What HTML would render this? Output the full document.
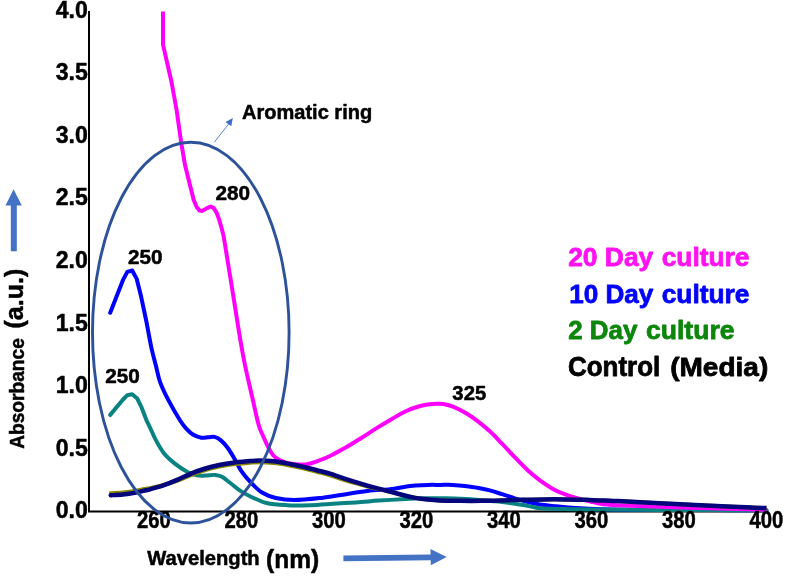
<!DOCTYPE html>
<html><head><meta charset="utf-8"><title>UV absorbance</title>
<style>
html,body{margin:0;padding:0;background:#fff;}
body{width:786px;height:578px;overflow:hidden;font-family:"Liberation Sans",sans-serif;}
svg{display:block;will-change:transform;}
text{font-family:"Liberation Sans",sans-serif;font-weight:bold;}
.c{fill:none;stroke-linejoin:round;}
</style></head><body>
<svg width="786" height="578" viewBox="0 0 786 578">
<rect x="0" y="0" width="786" height="578" fill="#fff"/>
<path d="M89 11 V511.6 H767" fill="none" stroke="#000" stroke-width="2"/>
<path class="c" d="M110.2 312.8 L123.2 279.6 L127.3 271.9 L132.2 270.5 L136.6 278.6 L140.8 295.2 L146.5 322.0 C147.3 326.2 149.8 340.1 151.3 347.3 C152.9 354.5 154.3 359.5 155.8 365.3 C157.3 371.1 158.0 376.3 160.1 382.1 C162.2 387.9 165.1 393.8 168.4 400.1 C171.7 406.4 176.9 415.3 179.8 420.0 C182.7 424.7 183.8 425.9 186.0 428.3 C188.2 430.7 190.4 432.9 192.9 434.5 C195.4 436.1 198.6 437.2 201.2 437.7 C203.8 438.2 206.0 437.4 208.2 437.3 C210.4 437.2 212.3 436.4 214.4 436.9 C216.5 437.4 218.4 438.3 220.6 440.1 C222.8 441.9 225.3 444.6 227.6 447.7 C229.9 450.8 232.2 454.9 234.5 458.8 C236.8 462.7 238.8 467.4 241.4 471.2 C244.0 475.0 246.6 478.1 250.0 481.6 C253.4 485.2 257.7 489.8 262.0 492.5 C266.3 495.2 270.4 496.7 275.8 498.0 C281.2 499.3 286.5 500.1 294.1 500.1 C301.7 500.1 313.2 498.8 321.6 497.9 C330.0 496.9 336.9 495.5 344.5 494.4 C352.1 493.2 359.8 491.9 367.4 491.0 C375.0 490.1 384.1 489.8 390.0 489.2 C395.9 488.6 398.5 487.8 402.7 487.2 C406.9 486.6 411.1 486.0 415.4 485.6 C419.6 485.2 424.1 485.0 428.2 484.9 C432.3 484.8 436.0 484.9 440.0 484.9 C444.0 484.9 448.2 484.7 452.4 484.9 C456.5 485.1 460.8 485.4 464.9 485.9 C469.0 486.4 473.1 486.9 477.3 487.7 C481.5 488.4 485.7 489.3 489.8 490.4 C493.9 491.5 498.0 492.9 502.2 494.2 C506.4 495.5 510.6 497.0 514.7 498.3 C518.9 499.6 523.0 500.8 527.1 501.8 C531.2 502.8 534.8 503.8 539.6 504.5 C544.5 505.2 550.3 505.7 556.2 506.3 C562.1 506.9 567.6 507.4 574.9 507.9 C582.2 508.4 589.1 508.9 600.0 509.2 C610.9 509.5 612.2 509.6 640.0 509.8 C667.8 510.0 745.4 510.2 766.5 510.3" stroke="#0000FF" stroke-width="4" stroke-linecap="round"/>
<path class="c" d="M110.2 414.9 L122.6 400.0 L127.3 395.2 L132.2 394.3 L137.2 398.5 L141.3 406.8 L146.5 420.3 C147.1 421.5 148.5 424.3 150.0 427.5 C151.5 430.7 153.2 435.1 155.5 439.4 C157.8 443.7 160.7 449.2 163.9 453.2 C167.1 457.2 171.0 460.5 174.9 463.6 C178.8 466.7 183.7 469.9 187.4 471.9 C191.1 473.9 194.1 474.8 197.1 475.4 C200.1 476.0 202.4 475.7 205.4 475.6 C208.4 475.5 212.3 474.7 215.1 474.9 C217.9 475.1 219.5 475.4 222.0 476.8 C224.5 478.2 227.3 480.7 230.3 483.0 C233.3 485.3 236.7 488.4 240.0 490.6 C243.3 492.8 245.6 494.1 250.0 496.2 C254.4 498.3 260.4 501.5 266.6 503.0 C272.8 504.5 279.9 504.8 287.2 505.2 C294.4 505.6 302.5 505.4 310.1 505.2 C317.7 505.0 325.4 504.3 333.0 503.8 C340.6 503.3 348.4 502.9 356.0 502.4 C363.6 501.9 370.6 501.2 378.8 500.6 C387.0 500.1 397.5 499.5 405.3 499.1 C413.1 498.7 418.8 498.5 425.6 498.3 C432.4 498.1 439.2 498.1 446.0 498.2 C452.8 498.3 458.7 498.6 466.3 499.0 C473.9 499.4 485.8 500.4 491.8 500.9 C497.8 501.4 497.0 501.2 502.2 501.9 C507.4 502.6 517.8 504.1 523.0 505.0 C528.2 505.9 530.6 506.5 533.4 507.0 C536.2 507.5 535.6 507.9 540.0 508.2 C544.4 508.5 550.0 508.8 560.0 509.0 C570.0 509.2 583.3 509.5 600.0 509.6 C616.7 509.8 640.0 509.8 660.0 509.9 C680.0 510.0 702.2 510.0 720.0 510.1 C737.8 510.2 758.8 510.3 766.5 510.3" stroke="#0A8282" stroke-width="4" stroke-linecap="round"/>
<path class="c" d="M163.0 11.4 L163.0 44.6 L171.3 81.0 L176.6 110.0 L181.3 143.2 L185.0 165.0 L188.1 177.4 L191.2 189.9 L193.7 199.9 L196.8 207.3 L199.6 210.6 L202.2 210.9 L206.1 208.6 L210.5 206.5 L213.6 207.9 L216.7 212.9 L219.2 219.8 L221.7 228.5 L223.6 236.0 C224.9 244.2 229.0 269.2 231.6 285.2 C234.2 301.2 236.8 318.8 239.0 332.0 C241.2 345.2 242.6 353.4 244.9 364.6 C247.2 375.8 250.4 389.1 252.7 399.2 C255.0 409.3 256.9 418.8 258.7 425.0 C260.4 431.2 261.6 432.5 263.2 436.2 C264.8 439.9 266.6 444.2 268.3 447.4 C270.0 450.6 271.5 453.4 273.4 455.5 C275.3 457.6 277.1 458.8 279.5 460.1 C281.9 461.4 284.8 462.5 288.0 463.2 C291.2 463.9 295.7 464.2 298.9 464.4 C302.1 464.6 304.1 464.7 307.0 464.2 C309.9 463.7 312.4 463.0 316.2 461.6 C320.0 460.2 325.1 458.3 330.0 456.0 C334.9 453.7 340.2 450.6 345.3 447.7 C350.4 444.8 355.4 441.7 360.5 438.5 C365.6 435.3 370.7 431.8 375.8 428.6 C380.9 425.4 386.0 422.3 391.1 419.4 C396.2 416.5 401.7 413.1 406.3 411.0 C410.9 408.9 414.7 407.6 418.5 406.5 C422.3 405.4 426.1 404.7 429.2 404.2 C432.3 403.7 434.4 403.7 436.9 403.7 C439.4 403.7 441.4 403.7 444.0 404.1 C446.6 404.6 448.9 405.0 452.4 406.4 C455.9 407.8 460.8 410.2 464.9 412.6 C469.0 415.0 473.1 417.8 477.3 420.9 C481.5 424.0 485.7 427.5 489.8 431.3 C493.9 435.1 498.0 439.5 502.2 443.8 C506.4 448.1 510.6 452.9 514.7 457.2 C518.9 461.5 523.0 465.9 527.1 469.7 C531.2 473.5 535.5 477.0 539.6 480.1 C543.8 483.2 547.9 486.0 552.0 488.4 C556.1 490.8 560.4 492.6 564.5 494.2 C568.6 495.8 572.8 496.9 576.9 498.1 C581.0 499.3 585.0 500.2 589.4 501.2 C593.8 502.2 596.0 503.4 603.1 504.2 C610.2 505.0 619.9 505.3 631.9 505.8 C643.9 506.3 660.6 506.7 675.0 507.2 C689.4 507.7 702.9 508.2 718.1 508.6 C733.4 509.0 758.4 509.6 766.5 509.8" stroke="#FF00FF" stroke-width="4" stroke-linecap="butt"/>
<path class="c" d="M109.2 493.2 C111.5 493.1 118.7 492.9 122.9 492.5 C127.1 492.1 130.6 491.5 134.4 490.9 C138.2 490.3 143.2 489.2 145.8 488.8 C148.4 488.3 147.0 488.7 150.0 488.1 C153.0 487.5 159.3 486.3 163.9 485.0 C168.5 483.8 173.1 482.3 177.7 480.6 C182.3 478.9 187.0 476.7 191.6 474.9 C196.2 473.1 200.8 471.5 205.4 470.1 C210.0 468.7 214.7 467.6 219.3 466.6 C223.9 465.6 228.0 464.9 233.1 464.3 C238.2 463.7 245.5 463.1 250.0 462.7 C254.5 462.4 256.8 462.2 260.2 462.2 C263.6 462.2 267.0 462.4 270.4 462.7 C273.8 463.0 277.1 463.3 280.5 463.8 C283.9 464.3 287.3 465.1 290.7 465.8 C294.1 466.5 297.5 467.0 300.9 467.8 C304.3 468.6 307.7 469.6 311.1 470.4 C314.5 471.3 318.1 472.1 321.2 472.9 C324.3 473.7 326.1 474.1 330.0 475.3 C333.9 476.5 338.3 478.2 344.5 480.1 C350.7 481.9 359.8 484.5 367.4 486.5 C375.0 488.4 384.1 490.4 390.0 491.9 C395.9 493.3 398.5 494.0 402.7 495.0 C406.9 496.0 411.1 497.1 415.4 497.9 C419.6 498.7 424.1 499.2 428.2 499.6 C432.3 500.0 434.6 500.2 440.0 500.4 C445.4 500.6 453.8 500.7 460.7 500.8 C467.6 500.9 474.6 500.9 481.5 500.8 C488.4 500.7 495.3 500.6 502.2 500.4 C509.1 500.2 516.1 500.0 523.0 499.8 C529.9 499.6 536.8 499.5 543.7 499.4 C550.6 499.3 557.6 499.3 564.5 499.4 C571.4 499.5 579.3 499.6 585.2 499.8 C591.1 500.0 594.6 500.2 600.0 500.4 C605.4 500.6 605.0 500.5 617.5 501.1 C630.0 501.7 655.8 503.1 675.0 504.0 C694.2 504.9 717.2 506.0 732.5 506.7 C747.8 507.4 760.8 507.8 766.5 508.0" stroke="#8A8A00" stroke-width="4" stroke-linecap="butt"/>
<path class="c" d="M110.8 495.2 C112.8 495.1 119.0 494.9 122.9 494.5 C126.8 494.1 130.6 493.6 134.4 492.9 C138.2 492.2 143.2 490.9 145.8 490.3 C148.4 489.7 147.0 490.2 150.0 489.3 C153.0 488.4 159.3 486.7 163.9 485.1 C168.5 483.5 173.1 481.6 177.7 479.6 C182.3 477.6 187.0 475.2 191.6 473.3 C196.2 471.4 200.8 469.9 205.4 468.5 C210.0 467.1 214.7 466.0 219.3 465.0 C223.9 464.0 228.0 463.3 233.1 462.7 C238.2 462.1 245.5 461.5 250.0 461.1 C254.5 460.8 256.8 460.6 260.2 460.6 C263.6 460.6 267.0 460.8 270.4 461.1 C273.8 461.4 277.1 461.7 280.5 462.2 C283.9 462.7 287.3 463.5 290.7 464.2 C294.1 464.9 297.5 465.4 300.9 466.2 C304.3 467.0 307.7 467.9 311.1 468.8 C314.5 469.7 318.1 470.5 321.2 471.3 C324.3 472.1 326.1 472.5 330.0 473.7 C333.9 474.9 338.3 476.6 344.5 478.6 C350.7 480.6 359.8 483.4 367.4 485.6 C375.0 487.8 384.1 490.0 390.0 491.6 C395.9 493.2 398.5 493.9 402.7 495.0 C406.9 496.1 411.1 497.1 415.4 497.9 C419.6 498.7 424.1 499.2 428.2 499.6 C432.3 500.0 434.6 500.2 440.0 500.4 C445.4 500.6 453.8 500.7 460.7 500.8 C467.6 500.9 474.6 500.9 481.5 500.8 C488.4 500.7 495.3 500.6 502.2 500.4 C509.1 500.2 516.1 500.0 523.0 499.8 C529.9 499.6 536.8 499.5 543.7 499.4 C550.6 499.3 557.6 499.3 564.5 499.4 C571.4 499.5 579.3 499.6 585.2 499.8 C591.1 500.0 594.6 500.2 600.0 500.4 C605.4 500.6 605.0 500.5 617.5 501.1 C630.0 501.7 655.8 503.1 675.0 504.0 C694.2 504.9 717.2 506.0 732.5 506.7 C747.8 507.4 760.8 507.8 766.5 508.0" stroke="#05057D" stroke-width="4.5" stroke-linecap="butt"/>
<circle cx="110.8" cy="495.2" r="2.25" fill="#05057D"/>
<path d="M214.3 142.2 L228.8 123.8" stroke="#5B84CF" stroke-width="1" fill="none"/>
<path d="M232.8 118 L231.3 126.3 L225.6 122 Z" fill="#3F6CC4"/>
<text transform="translate(55.65 17.75) scale(0.9443 1)" font-size="24.5" fill="#000" stroke="#000" stroke-width="0.50" stroke-linejoin="round">4.0</text>
<text transform="translate(55.65 80.30) scale(0.9443 1)" font-size="24.5" fill="#000" stroke="#000" stroke-width="0.50" stroke-linejoin="round">3.5</text>
<text transform="translate(55.65 142.85) scale(0.9443 1)" font-size="24.5" fill="#000" stroke="#000" stroke-width="0.50" stroke-linejoin="round">3.0</text>
<text transform="translate(55.65 205.40) scale(0.9443 1)" font-size="24.5" fill="#000" stroke="#000" stroke-width="0.50" stroke-linejoin="round">2.5</text>
<text transform="translate(55.65 267.95) scale(0.9443 1)" font-size="24.5" fill="#000" stroke="#000" stroke-width="0.50" stroke-linejoin="round">2.0</text>
<text transform="translate(55.65 330.50) scale(0.9443 1)" font-size="24.5" fill="#000" stroke="#000" stroke-width="0.50" stroke-linejoin="round">1.5</text>
<text transform="translate(55.65 393.05) scale(0.9443 1)" font-size="24.5" fill="#000" stroke="#000" stroke-width="0.50" stroke-linejoin="round">1.0</text>
<text transform="translate(55.65 455.60) scale(0.9443 1)" font-size="24.5" fill="#000" stroke="#000" stroke-width="0.50" stroke-linejoin="round">0.5</text>
<text transform="translate(55.65 518.15) scale(0.9443 1)" font-size="24.5" fill="#000" stroke="#000" stroke-width="0.50" stroke-linejoin="round">0.0</text>
<text transform="translate(136.90 528.35) scale(0.8289 1)" font-size="24.5" fill="#000" stroke="#000" stroke-width="0.50" stroke-linejoin="round">260</text>
<text transform="translate(224.40 528.35) scale(0.8289 1)" font-size="24.5" fill="#000" stroke="#000" stroke-width="0.50" stroke-linejoin="round">280</text>
<text transform="translate(311.90 528.35) scale(0.8289 1)" font-size="24.5" fill="#000" stroke="#000" stroke-width="0.50" stroke-linejoin="round">300</text>
<text transform="translate(399.40 528.35) scale(0.8289 1)" font-size="24.5" fill="#000" stroke="#000" stroke-width="0.50" stroke-linejoin="round">320</text>
<text transform="translate(486.90 528.35) scale(0.8289 1)" font-size="24.5" fill="#000" stroke="#000" stroke-width="0.50" stroke-linejoin="round">340</text>
<text transform="translate(574.40 528.35) scale(0.8289 1)" font-size="24.5" fill="#000" stroke="#000" stroke-width="0.50" stroke-linejoin="round">360</text>
<text transform="translate(661.90 528.35) scale(0.8289 1)" font-size="24.5" fill="#000" stroke="#000" stroke-width="0.50" stroke-linejoin="round">380</text>
<text transform="translate(749.40 528.35) scale(0.8289 1)" font-size="24.5" fill="#000" stroke="#000" stroke-width="0.50" stroke-linejoin="round">400</text>
<ellipse cx="190.8" cy="332.6" rx="98.3" ry="190.4" fill="none" stroke="#2E529A" stroke-width="2.9"/>
<text transform="translate(215.55 200.35) scale(1.0117 1)" font-size="20.5" fill="#000" stroke="#000" stroke-width="0.50" stroke-linejoin="round">280</text>
<text transform="translate(127.95 264.05) scale(1.0088 1)" font-size="20.5" fill="#000" stroke="#000" stroke-width="0.50" stroke-linejoin="round">250</text>
<text transform="translate(105.25 382.75) scale(1.0117 1)" font-size="20.5" fill="#000" stroke="#000" stroke-width="0.50" stroke-linejoin="round">250</text>
<text transform="translate(452.35 399.85) scale(0.9912 1)" font-size="20.5" fill="#000" stroke="#000" stroke-width="0.50" stroke-linejoin="round">325</text>
<text transform="translate(241.95 119.25) scale(0.9924 1)" font-size="20.2" fill="#000" stroke="#000" stroke-width="0.50" stroke-linejoin="round">Aromatic ring</text>
<text transform="translate(147.25 565.05) scale(1.0455 1)" font-size="19.3" fill="#000" stroke="#000" stroke-width="0.50" stroke-linejoin="round">Wavelength</text>
<text transform="translate(266.05 567.75) scale(0.9870 1)" font-size="24.9" fill="#000" stroke="#000" stroke-width="0.50" stroke-linejoin="round">(nm)</text>
<path d="M343.4 555.4 L430.6 554.4 L430.4 548.9 L446.7 557.1 L430.8 565.3 L430.7 560.2 L343.4 561.2 Z" fill="#4472C4"/>
<g transform="translate(24 449) rotate(-90)"><text transform="translate(0.15 -0.25) scale(0.9928 1)" font-size="19.3" fill="#000" stroke="#000" stroke-width="0.50" stroke-linejoin="round">Absorbance</text><text transform="translate(120.55 -0.55) scale(1.0034 1)" font-size="24.9" fill="#000" stroke="#000" stroke-width="0.50" stroke-linejoin="round">(a.u.)</text></g>
<path d="M13.6 189.2 L21.8 205.4 L16.8 205.4 L16.8 251.2 L10.8 251.2 L10.8 205.4 L5.5 205.4 Z" fill="#4472C4"/>
<text transform="translate(568.20 265.80) scale(0.9884 1)" font-size="26.7" fill="#FF12F2" stroke="#FF12F2" stroke-width="0.80" stroke-linejoin="round">20 Day</text>
<text transform="translate(661.70 265.80) scale(0.9865 1)" font-size="26.7" fill="#FF12F2" stroke="#FF12F2" stroke-width="0.80" stroke-linejoin="round">culture</text>
<text transform="translate(569.20 302.80) scale(0.9768 1)" font-size="26.7" fill="#0202FA" stroke="#0202FA" stroke-width="0.80" stroke-linejoin="round">10 Day</text>
<text transform="translate(661.70 302.80) scale(0.9865 1)" font-size="26.7" fill="#0202FA" stroke="#0202FA" stroke-width="0.80" stroke-linejoin="round">culture</text>
<text transform="translate(568.20 339.30) scale(0.9705 1)" font-size="26.7" fill="#0C860C" stroke="#0C860C" stroke-width="0.80" stroke-linejoin="round">2 Day</text>
<text transform="translate(646.00 339.30) scale(0.9944 1)" font-size="26.7" fill="#0C860C" stroke="#0C860C" stroke-width="0.80" stroke-linejoin="round">culture</text>
<text transform="translate(568.00 376.30) scale(0.9715 1)" font-size="26.7" fill="#000" stroke="#000" stroke-width="0.80" stroke-linejoin="round">Control</text>
<text transform="translate(670.20 376.30) scale(1.0492 1)" font-size="26.7" fill="#000" stroke="#000" stroke-width="0.80" stroke-linejoin="round">(Media)</text>
</svg>
</body></html>
